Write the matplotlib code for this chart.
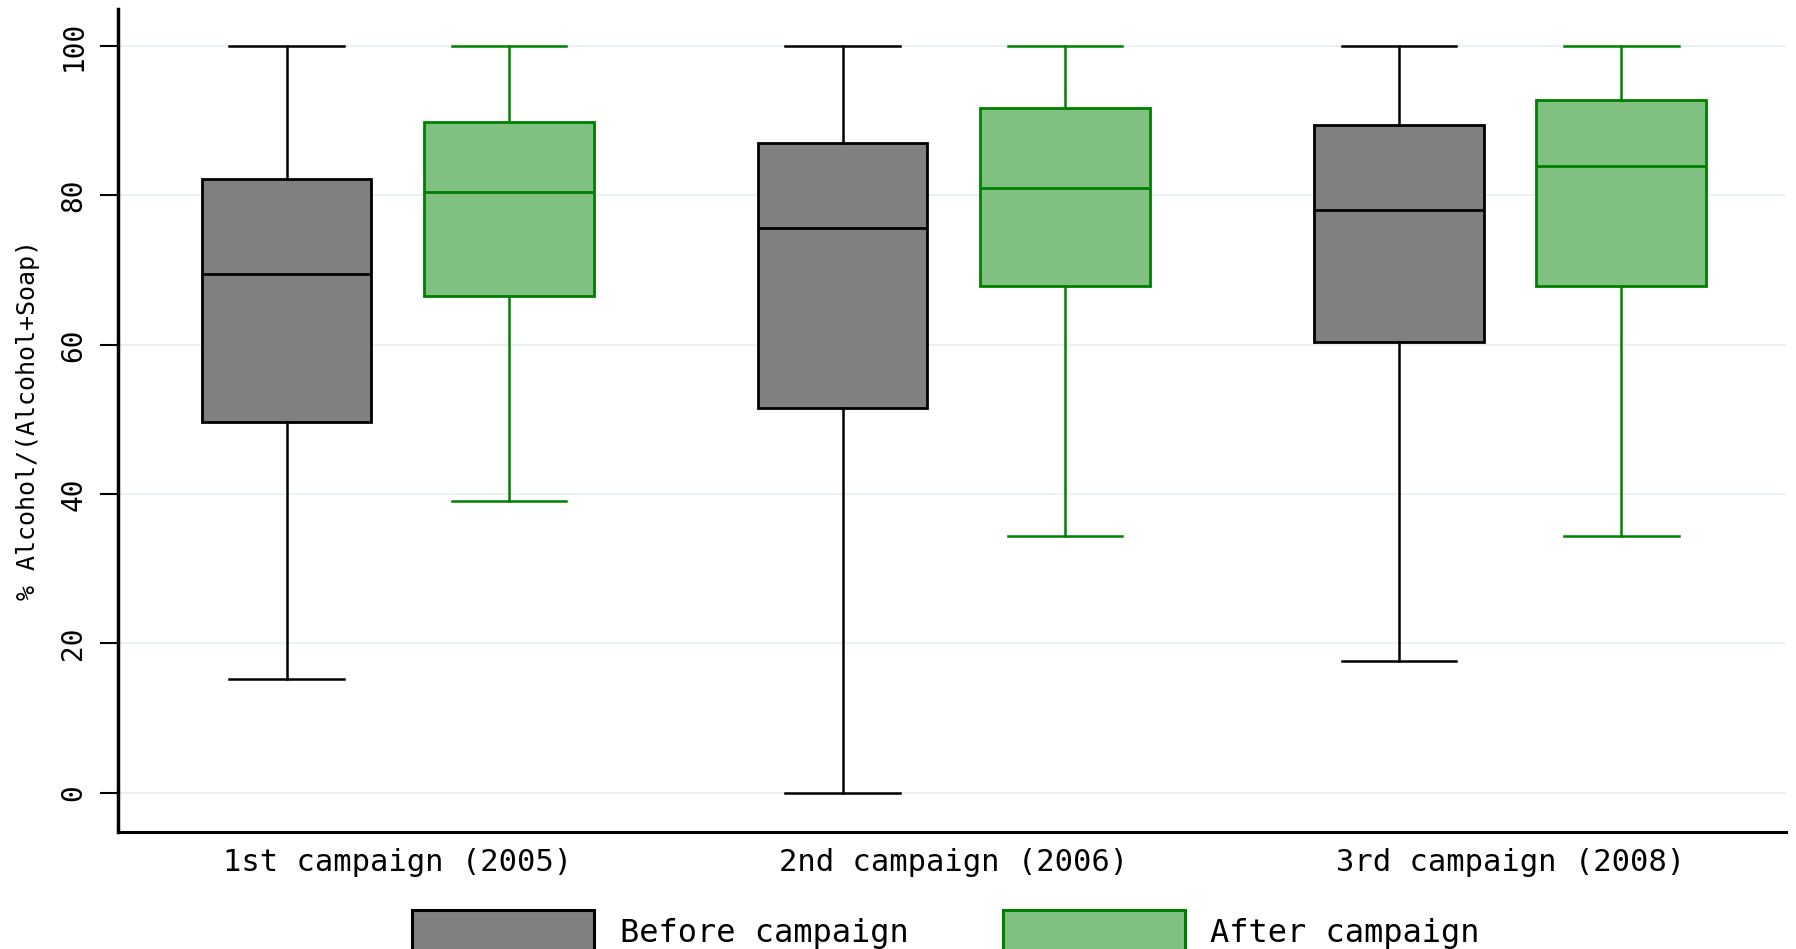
import numpy as np
import matplotlib.pyplot as plt
from matplotlib.patches import Rectangle

campaigns = ['1st campaign (2005)', '2nd campaign (2006)', '3rd campaign (2008)']
series = ['Before campaign', 'After campaign']

# five-number summaries: low whisker, Q1, median, Q3, high whisker
before_low = [15.3, 0.0, 17.6]
before_q1 = [49.7, 51.5, 60.4]
before_med = [69.5, 75.6, 78.1]
before_q3 = [82.2, 87.0, 89.4]
before_high = [100, 100, 100]

after_low = [39.1, 34.4, 34.4]
after_q1 = [66.6, 67.9, 67.9]
after_med = [80.5, 81.0, 83.9]
after_q3 = [89.9, 91.7, 92.8]
after_high = [100, 100, 100]

yticks = [0, 20, 40, 60, 80, 100]

# the original uses wide letter spacing, a monospaced face gets close to that
plt.rcParams['font.family'] = ['DejaVu Sans Mono', 'DejaVu Sans']

fig = plt.figure(figsize=(17.96, 9.49), dpi=100)
ax = fig.add_axes([0.0657, 0.1237, 0.929, 0.867])


def stats(low, q1, med, q3, high):
    return [dict(whislo=a, q1=b, med=c, q3=d, whishi=e, fliers=[])
            for a, b, c, d, e in zip(low, q1, med, q3, high)]


x = np.arange(len(campaigns))
off = 0.2
w = 0.305
cap = 0.206

fills = ['#808080', '#80c080']
edges = ['black', '#008000']
groups = [
    stats(before_low, before_q1, before_med, before_q3, before_high),
    stats(after_low, after_q1, after_med, after_q3, after_high),
]
for st, pos, fc, ec in zip(groups, [x - off, x + off], fills, edges):
    ax.bxp(st, positions=pos, widths=w, capwidths=cap, patch_artist=True, showfliers=False,
           boxprops=dict(facecolor=fc, edgecolor=ec, linewidth=2.0),
           medianprops=dict(color=ec, linewidth=2.0),
           whiskerprops=dict(color=ec, linewidth=1.8),
           capprops=dict(color=ec, linewidth=1.8),
           zorder=3)

ax.set_xlim(-0.503, 2.497)
ax.set_ylim(-5.2, 105)
ax.set_xticks(x)
ax.set_xticklabels(campaigns, fontsize=22)
ax.tick_params(axis='x', length=0, pad=12)
ax.set_yticks(yticks)
ax.set_yticklabels([str(t) for t in yticks], fontsize=20, rotation=90, va='center')
ax.tick_params(axis='y', length=13, width=1.5, pad=9)
ax.set_ylabel('% Alcohol/(Alcohol+Soap)', fontsize=18)
ax.yaxis.set_label_coords(-0.0467, 0.5)
ax.yaxis.grid(True, color='#eaf2f3', linewidth=1.5, zorder=0)
ax.set_axisbelow(True)

for s in ['top', 'right']:
    ax.spines[s].set_visible(False)
ax.spines['left'].set_linewidth(2.5)
ax.spines['bottom'].set_linewidth(2.2)

# legend keys run off the bottom edge of the figure, as in the original
key_left = [0.2294, 0.5587]
text_left = [0.3452, 0.6737]
for name, fc, ec, kx, tx in zip(series, fills, edges, key_left, text_left):
    fig.add_artist(Rectangle((kx, -0.03), 0.1013, 0.0711, transform=fig.transFigure,
                             facecolor=fc, edgecolor=ec, linewidth=2.2, clip_on=False))
    fig.text(tx, 0.0074, name, fontsize=23, ha='left', va='baseline')

fig.savefig('out.png', dpi=100)
